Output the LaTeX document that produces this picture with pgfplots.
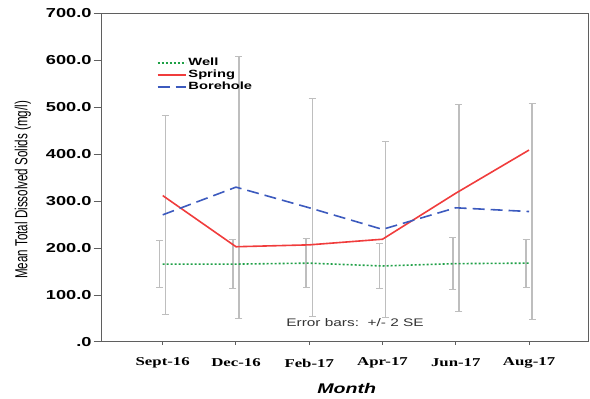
\documentclass[border=0pt]{standalone}
\usepackage{fontspec}
\setmainfont{Liberation Sans}
\newfontfamily\tickserif{Liberation Serif}
\usepackage{graphicx}
\usepackage{pgfplots}
\pgfplotsset{compat=1.18}

% SPSS-style output is set wide; stretch text horizontally
\newcommand\wide[1]{\scalebox{1.4}[1]{#1}}
\newcommand\tall[1]{\scalebox{1}[1.5]{#1}}

\definecolor{wellgreen}{RGB}{30,160,70}
\definecolor{springred}{RGB}{240,60,60}
\definecolor{boreblue}{RGB}{60,90,190}
\definecolor{barsgray}{RGB}{190,190,190}
\definecolor{framegray}{RGB}{95,95,95}

\begin{document}
\begin{tikzpicture}
\begin{axis}[
  name=ax,
  scale only axis, width=486.3pt, height=328.5pt,
  xmin=-0.833, xmax=5.805, ymin=0, ymax=700,
  axis line style={draw=framegray, line width=1pt},
  tick align=outside, xtick pos=bottom, ytick pos=left,
  major tick length=8pt,
  tick style={draw=framegray, line width=1pt},
  xtick style={/pgfplots/major tick length=3pt},
  xtick={0,1,2,3,4,5},
  xticklabels={\wide{Sept-16},\wide{Dec-16},\wide{Feb-17},\wide{Apr-17},\wide{Jun-17},\wide{Aug-17}},
  xticklabel style={font=\tickserif\bfseries\fontsize{12}{14}\selectfont, anchor=center, yshift=-13pt},
  ytick={0,100,200,300,400,500,600,700},
  yticklabels={\wide{.0},\wide{100.0},\wide{200.0},\wide{300.0},\wide{400.0},\wide{500.0},\wide{600.0},\wide{700.0}},
  yticklabel style={font=\bfseries\fontsize{13}{15}\selectfont, anchor=east, inner sep=0pt, xshift=-2pt},
  xlabel={\wide{Month}},
  xlabel style={font=\bfseries\itshape\fontsize{14}{16}\selectfont, at={(axis description cs:0.504,0)}, anchor=center, yshift=-46pt},
  ylabel={\tall{Mean Total Dissolved Solids (mg/l)}},
  ylabel style={font=\fontsize{11.6}{14}\selectfont, at={(axis description cs:-0.162,0.463)}, anchor=center},
  legend style={at={(axis description cs:0.113,0.869)}, anchor=north west, draw=none, fill=none,
    inner sep=0pt, row sep=0pt, column sep=1pt, font=\bfseries\fontsize{10.5}{12}\selectfont,
    nodes={inner sep=1pt, text height=7.5pt, text depth=2.5pt}},
  legend cell align=left,
  legend image code/.code={\draw[#1] (0pt,0pt) -- (28pt,0pt);},
]

% error bars (+/- 2 SE), drawn first so the means lie on top
\addplot[forget plot, draw=none, mark=none,
  error bars/.cd, y dir=both, y explicit,
  error bar style={draw=barsgray, line width=1.5pt},
  error mark options={draw=barsgray, line width=1pt, rotate=90, mark size=3.5pt}]
  coordinates {
  (-0.041,166) +- (0,50)
  (0.959,166) +- (0,53)
  (1.959,168) +- (0,52)
  (2.959,162) +- (0,48)
  (3.959,167) +- (0,56)
  (4.959,168) +- (0,51)
};
\addplot[forget plot, draw=none, mark=none,
  error bars/.cd, y dir=both, y explicit,
  error bar style={draw=barsgray, line width=1.5pt},
  error mark options={draw=barsgray, line width=1pt, rotate=90, mark size=3.5pt}]
  coordinates {
  (0.041,271) +- (0,212)
  (1.041,330) +- (0,279)
  (2.041,286) +- (0,232)
  (3.041,240) +- (0,187)
  (4.041,286) +- (0,221)
  (5.041,278) +- (0,231)
};

% mean TDS by source
\addplot[wellgreen, mark=none, line width=1.6pt, dash pattern=on 2pt off 2pt] coordinates {
  (0,166) (1,166) (2,168) (3,162) (4,167) (5,168)
};
\addlegendentry{\wide{Well}}
\addplot[springred, mark=none, line width=1.6pt] coordinates {
  (0,312) (1,203) (2,207) (3,219) (4,317) (5,409)
};
\addlegendentry{\wide{Spring}}
\addplot[boreblue, mark=none, line width=1.6pt, dash pattern=on 12pt off 6pt] coordinates {
  (0,271) (1,330) (2,286) (3,240) (4,286) (5,278)
};
\addlegendentry{\wide{Borehole}}

\node[font=\fontsize{11}{13}\selectfont, text=black!80] at (axis description cs:0.521,0.0588)
  {\wide{Error bars:\ \ +/- 2 SE}};
\end{axis}
\pgfresetboundingbox
\path ([shift={(-101.7pt,-57pt)}]ax.south west) rectangle ([shift={(2pt,13.5pt)}]ax.north east);
\end{tikzpicture}
\end{document}
